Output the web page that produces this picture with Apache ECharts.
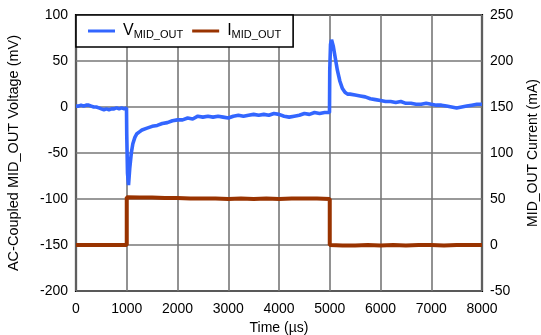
<!DOCTYPE html>
<html>
<head>
<meta charset="utf-8">
<script src="https://cdn.jsdelivr.net/npm/echarts@6/dist/echarts.min.js"></script>
<style>
  html, body { margin: 0; padding: 0; background: #fff; }
  #chart { width: 541px; height: 335px; }
</style>
</head>
<body>
<div id="chart"></div>
<script>
// Time samples (µs) and the AC-coupled MID_OUT voltage (mV)
const timeV = [
  0, 50, 100, 150, 200, 250, 300, 350, 400, 450, 500, 550, 600, 650, 700, 750, 800, 850, 900, 950, 995,
  1000, 1015, 1035, 1060, 1090, 1120, 1160, 1200, 1250, 1300, 1400, 1500, 1600, 1700, 1800, 1900, 2000,
  2100, 2200, 2300, 2400, 2500, 2600, 2700, 2800, 2900, 3000, 3100, 3200, 3300, 3400, 3500, 3600, 3700,
  3800, 3900, 4000, 4100, 4200, 4300, 4400, 4500, 4600, 4700, 4800, 4900, 4995,
  5000, 5015, 5035, 5070, 5110, 5150, 5200, 5250, 5300, 5350, 5400, 5500, 5600, 5700, 5800, 5900, 6000,
  6100, 6200, 6300, 6400, 6500, 6600, 6700, 6800, 6900, 7000, 7100, 7200, 7300, 7400, 7500, 7600, 7700,
  7800, 7900, 8000
];
const voltage = [
  1, 1, 2, 1, 2, 2, 1, 0, 0, -1, -2, -3, -2, -3, -2, -2, -1, -2, -1, -2, -1,
  -30, -72, -85, -66, -50, -40, -33, -29, -27, -25, -23, -21, -20, -18, -17, -15, -14,
  -14, -12, -13, -10, -11, -10, -11, -10, -11, -12, -10, -9, -10, -9, -8, -9, -8,
  -9, -7, -8, -10, -11, -10, -9, -7, -8, -6, -7, -6, -6,
  40, 68, 73, 66, 53, 40, 28, 20, 16, 14, 14, 13, 12, 11, 9, 8, 7,
  6, 6, 5, 6, 4, 4, 3, 3, 4, 3, 2, 2, 1, 0, -1, 0, 1,
  2, 3, 3
];

// Time samples (µs) and the MID_OUT load current (mA)
const timeI = [
  0, 250, 500, 750, 1000, 1000, 1250, 1500, 1750, 2000, 2250, 2500, 2750, 3000, 3250, 3500, 3750, 4000,
  4250, 4500, 4750, 5000, 5000, 5250, 5500, 5750, 6000, 6250, 6500, 6750, 7000, 7250, 7500, 7750, 8000
];
const current = [
  0, 0, 0, 0, 0, 52, 51.5, 51.5, 51, 51, 50.5, 50.5, 50.5, 50, 50.5, 50, 50.5, 50,
  50.5, 50.5, 50.5, 50, 0, -0.5, -0.5, 0, -0.5, 0, -0.5, 0, 0, -0.5, 0, 0, 0
];

// Axis ranges
const timeAxis = { min: 0, max: 8000, step: 1000 };
const voltAxis = { min: -200, max: 100, step: 50 };
const currAxis = { min: -50, max: 250, step: 50 };

const font = 'Liberation Sans, Arial, Helvetica, sans-serif';
const gridLine = { show: true, lineStyle: { color: '#777', width: 1.6 } };
const labelStyle = { color: '#000', fontSize: 14, fontFamily: font };

const chart = echarts.init(document.getElementById('chart'), null, { renderer: 'canvas' });

chart.setOption({
  animation: false,
  backgroundColor: '#fff',
  textStyle: { fontFamily: font },
  grid: {
    left: 76, right: 59, top: 15, bottom: 44,
    containLabel: false,
    outerBoundsMode: 'none',
    show: true, borderColor: '#000', borderWidth: 2.2, backgroundColor: 'transparent'
  },
  legend: {
    left: 76, top: 15,
    orient: 'horizontal',
    backgroundColor: '#fff',
    borderColor: '#000',
    borderWidth: 1.6,
    padding: [8, 12, 7, 12],
    itemGap: 9,
    itemWidth: 27,
    itemHeight: 3,
    icon: 'rect',
    textStyle: {
      color: '#000',
      fontFamily: font,
      rich: {
        m: { fontSize: 16, color: '#000', fontFamily: font, padding: [0, 0, 0, 3] },
        s: { fontSize: 11, color: '#000', fontFamily: font, padding: [7, 0, 0, 0] }
      }
    },
    formatter: function (name) {
      return name === 'V' ? '{m|V}{s|MID_OUT}' : '{m|I}{s|MID_OUT}';
    },
    data: ['V', 'I']
  },
  xAxis: {
    type: 'value',
    min: timeAxis.min, max: timeAxis.max, interval: timeAxis.step,
    name: 'Time (µs)',
    nameLocation: 'middle',
    nameGap: 29,
    nameTextStyle: { color: '#000', fontSize: 14, fontFamily: font },
    axisLine: { show: false },
    axisTick: { show: false },
    axisLabel: Object.assign({ margin: 11, formatter: v => String(v) }, labelStyle),
    splitLine: gridLine
  },
  yAxis: [
    {
      type: 'value',
      position: 'left',
      min: voltAxis.min, max: voltAxis.max, interval: voltAxis.step,
      name: 'AC-Coupled MID_OUT Voltage (mV)',
      nameLocation: 'middle',
      nameGap: 55,
      nameTextStyle: { color: '#000', fontSize: 14.5, fontFamily: font },
      axisLine: { show: false },
      axisTick: { show: false },
      axisLabel: Object.assign({ margin: 8, formatter: v => String(v) }, labelStyle),
      splitLine: gridLine
    },
    {
      type: 'value',
      position: 'right',
      min: currAxis.min, max: currAxis.max, interval: currAxis.step,
      name: 'MID_OUT Current (mA)',
      nameLocation: 'middle',
      nameGap: 44,
      nameTextStyle: { color: '#000', fontSize: 14, fontFamily: font },
      axisLine: { show: false },
      axisTick: { show: false },
      axisLabel: Object.assign({ margin: 8, formatter: v => String(v) }, labelStyle),
      splitLine: { show: false }
    }
  ],
  series: [
    {
      name: 'V',
      type: 'line',
      yAxisIndex: 0,
      data: timeV.map((t, i) => [t, voltage[i]]),
      showSymbol: false,
      symbol: 'none',
      lineStyle: { color: '#3366ff', width: 3.6 },
      itemStyle: { color: '#3366ff' },
      z: 3
    },
    {
      name: 'I',
      type: 'line',
      yAxisIndex: 1,
      data: timeI.map((t, i) => [t, current[i]]),
      showSymbol: false,
      symbol: 'none',
      lineStyle: { color: '#993300', width: 4 },
      itemStyle: { color: '#993300' },
      z: 2
    }
  ]
});
</script>
</body>
</html>
